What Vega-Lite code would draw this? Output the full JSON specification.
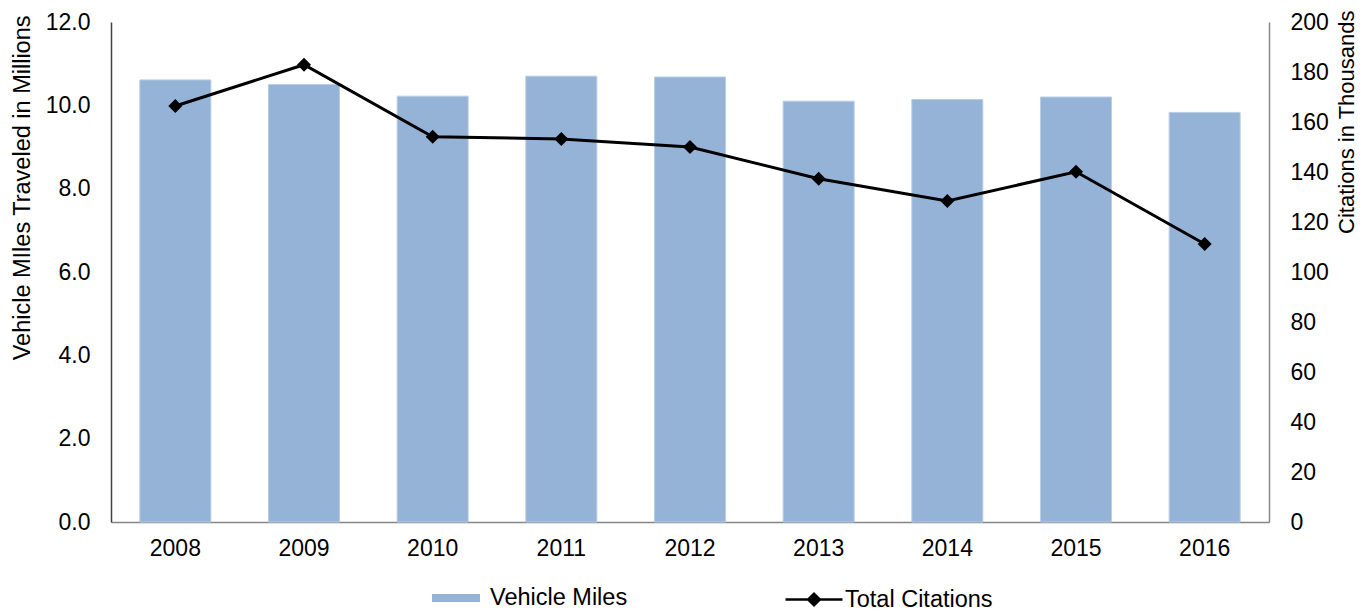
{
  "$schema": "https://vega.github.io/schema/vega-lite/v6.json",
  "width": 1158,
  "height": 500,
  "autosize": {"type": "none"},
  "padding": {"left": 111, "top": 22, "right": 100, "bottom": 89},
  "background": "white",
  "config": {
    "view": {"stroke": null},
    "font": "Liberation Sans",
    "axis": {"labelFont": "Liberation Sans", "titleFont": "Liberation Sans", "labelFontSize": 23, "titleFontSize": 23.5, "titleFontWeight": "normal", "labelColor": "black", "titleColor": "black", "ticks": false, "grid": false},
    "legend": {"labelFont": "Liberation Sans", "labelFontSize": 23.5, "labelColor": "black", "padding": 0}
  },
  "data": {
    "values": [
      {"year": "2008", "miles": 10.61, "citations": 166.4},
      {"year": "2009", "miles": 10.5, "citations": 182.9},
      {"year": "2010", "miles": 10.22, "citations": 154.1},
      {"year": "2011", "miles": 10.7, "citations": 153.2},
      {"year": "2012", "miles": 10.68, "citations": 150.0},
      {"year": "2013", "miles": 10.1, "citations": 137.3},
      {"year": "2014", "miles": 10.14, "citations": 128.4},
      {"year": "2015", "miles": 10.2, "citations": 140.1},
      {"year": "2016", "miles": 9.83, "citations": 111.2}
    ]
  },
  "encoding": {
    "x": {
      "field": "year", "type": "ordinal",
      "scale": {"paddingInner": 0.448, "paddingOuter": 0.224},
      "axis": {"title": null, "labelAngle": 0, "labelPadding": 15, "domainColor": "#868686", "domainWidth": 1.5}
    }
  },
  "layer": [
    {
      "mark": {"type": "bar", "stroke": "#B9CDE5", "strokeWidth": 1},
      "encoding": {
        "y": {
          "field": "miles", "type": "quantitative",
          "scale": {"domain": [0, 12], "nice": false},
          "axis": {"title": "Vehicle MIles Traveled in Millions", "values": [0, 2, 4, 6, 8, 10, 12], "format": ".1f", "labelPadding": 21, "titlePadding": 11, "titleAnchor": "end", "titleY": -7, "titleAlign": "right", "domainColor": "#404040", "domainWidth": 1.5, "orient": "left"}
        },
        "fill": {
          "datum": "Vehicle Miles",
          "scale": {"range": ["#95B3D7"]},
          "legend": {"title": null, "orient": "none", "legendX": 321, "legendY": 552, "symbolType": "M-1,-0.167H1V0.167H-1Z", "symbolSize": 2304, "symbolStrokeWidth": 0, "labelOffset": 10}
        }
      }
    },
    {
      "layer": [
        {
          "mark": {"type": "line", "strokeWidth": 3},
          "encoding": {
            "y": {"field": "citations", "type": "quantitative"},
            "stroke": {
              "datum": "Total Citations",
              "scale": {"range": ["black"]},
              "legend": {"title": null, "orient": "none", "legendX": 673, "legendY": 547.5, "symbolType": "M-1,0H-0.2L0,-0.2L0.2,0H1H0.2L0,0.2L-0.2,0Z", "symbolSize": 3249, "symbolStrokeWidth": 2.5, "symbolFillColor": "black", "labelOffset": 1}
            }
          }
        },
        {
          "mark": {"type": "point", "shape": "diamond", "filled": true, "size": 196, "color": "black", "opacity": 1},
          "encoding": {
            "y": {"field": "citations", "type": "quantitative"}
          }
        }
      ],
      "encoding": {
        "y": {
          "field": "citations", "type": "quantitative",
          "scale": {"domain": [0, 200], "nice": false},
          "axis": {"title": "Citations in Thousands", "orient": "right", "values": [0, 20, 40, 60, 80, 100, 120, 140, 160, 180, 200], "labelPadding": 21, "titlePadding": 30, "titleFontSize": 22, "titleAngle": 270, "titleAnchor": "end", "titleY": -12, "titleAlign": "right", "domainColor": "#868686", "domainWidth": 1.5}
        }
      }
    }
  ],
  "resolve": {"scale": {"y": "independent"}}
}
